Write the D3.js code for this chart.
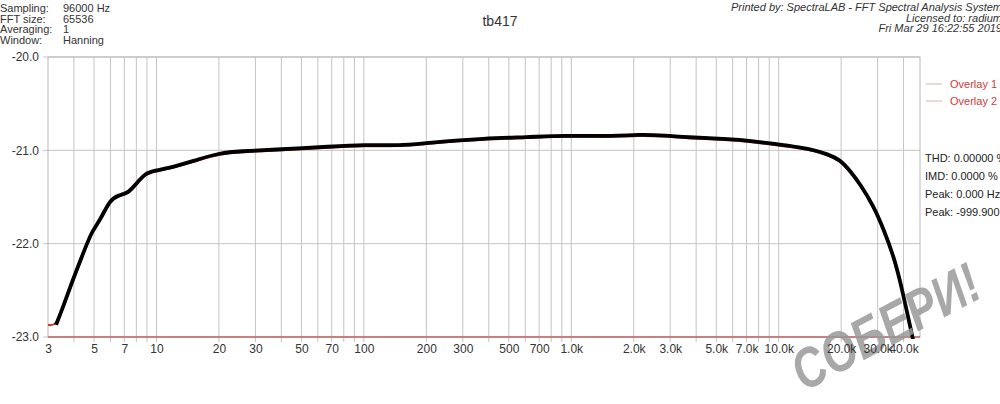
<!DOCTYPE html>
<html>
<head>
<meta charset="utf-8">
<script src="https://cdn.jsdelivr.net/npm/d3@7"></script>
<style>
  body { margin: 0; background: #fff; }
  text { font-family: "Liberation Sans", Arial, sans-serif; }
</style>
</head>
<body>
<svg id="chart"></svg>
<script>
// response data (Hz, dB)
const freqs = [3.28, 3.56, 3.9, 4.44, 4.87, 5.35, 5.97, 6.55, 7.32, 8.03, 8.82, 9.64, 12.1, 16.2, 20.2, 25,
  39.5, 68.7, 100, 150, 200, 390, 610, 912, 1650, 2050, 2900, 3500, 6000, 7300, 9500, 12800, 15000, 17100,
  19800, 22100, 24700, 28700, 32100, 35900, 38700, 41700, 44200, 45000];
const levels = [-22.87, -22.67, -22.42, -22.1, -21.87, -21.75, -21.53, -21.48, -21.46, -21.35, -21.25, -21.22, -21.18, -21.09, -21.03, -21.01,
  -20.99, -20.96, -20.94, -20.95, -20.92, -20.87, -20.86, -20.84, -20.85, -20.83, -20.84, -20.86, -20.88, -20.9, -20.93, -20.97, -21.0, -21.04,
  -21.1, -21.22, -21.36, -21.6, -21.85, -22.14, -22.42, -22.75, -23.0, -23.1];
const overlayStart = [3, -22.86];
const overlay2Level = -23.0;

const xTicks = [3, 5, 7, 10, 20, 30, 50, 70, 100, 200, 300, 500, 700, 1000, 2000, 3000, 5000, 7000, 10000, 20000, 30000, 40000];
const yTicks = [-20, -21, -22, -23];
const infoLabels = ["Sampling:", "FFT size:", "Averaging:", "Window:"];
const infoValues = ["96000 Hz", "65536", "1", "Hanning"];
const printedLines = ["Printed by: SpectraLAB - FFT Spectral Analysis System", "Licensed to: radium", "Fri Mar 29 16:22:55 2019"];
const legendNames = ["Overlay 1", "Overlay 2"];
const statLines = ["THD: 0.00000 %", "IMD: 0.0000 %", "Peak: 0.000 Hz", "Peak: -999.900 dB"];

const width = 1000, height = 404;
const margin = { top: 57, bottom: 67, left: 48, right: 80 };

const svg = d3.select("#chart").attr("width", width).attr("height", height);

const x = d3.scaleLog().domain([3, 48000]).range([margin.left, width - margin.right]);
const y = d3.scaleLinear().domain([-23, -20]).range([height - margin.bottom, margin.top]);

// minor grid: every integer in each decade
const gridF = [];
for (let dec = 1; dec <= 10000; dec *= 10) {
  for (let m = 1; m <= 9; m++) {
    const f = m * dec;
    if (f > 3 && f <= 40000) gridF.push(f);
  }
}

svg.append("g")
  .selectAll("line")
  .data(gridF)
  .enter()
  .append("line")
  .attr("x1", (d) => x(d)).attr("x2", (d) => x(d))
  .attr("y1", y(-20)).attr("y2", y(-23) + 5)
  .attr("stroke", "#c4c4c4")
  .attr("stroke-width", 1);

svg.append("g")
  .selectAll("line")
  .data(yTicks)
  .enter()
  .append("line")
  .attr("x1", x(3) - 5).attr("x2", x(48000))
  .attr("y1", (d) => y(d)).attr("y2", (d) => y(d))
  .attr("stroke", "#c4c4c4")
  .attr("stroke-width", 1);

// frame
svg.append("rect")
  .attr("x", x(3)).attr("y", y(-20))
  .attr("width", x(48000) - x(3)).attr("height", y(-23) - y(-20))
  .attr("fill", "none")
  .attr("stroke", "#b8b8b8");

const clip = svg.append("clipPath").attr("id", "plot-clip")
  .append("rect")
  .attr("x", x(3)).attr("y", y(-20))
  .attr("width", x(48000) - x(3)).attr("height", y(-23) - y(-20) + 2);

const line = d3.line()
  .x((d) => x(d[0]))
  .y((d) => y(d[1]))
  .curve(d3.curveBasis);

const mainData = freqs.map((f, i) => [f, levels[i]]);
const overlayData = [overlayStart].concat(mainData);

const plot = svg.append("g").attr("clip-path", "url(#plot-clip)");

// overlay 2 flat line
plot.append("line")
  .attr("x1", x(3)).attr("x2", x(48000))
  .attr("y1", y(overlay2Level)).attr("y2", y(overlay2Level))
  .attr("stroke", "#c0393b")
  .attr("stroke-width", 1.2);

// overlay 1
plot.append("path")
  .datum(overlayData)
  .attr("fill", "none")
  .attr("stroke", "#c0393b")
  .attr("stroke-width", 2)
  .attr("transform", "translate(0, 1)")
  .attr("d", line);

// main trace
plot.append("path")
  .datum(mainData)
  .attr("fill", "none")
  .attr("stroke", "#000")
  .attr("stroke-width", 3.8)
  .attr("stroke-linejoin", "round")
  .attr("d", line);

// watermark
svg.append("text")
  .attr("transform", "translate(804, 392) rotate(-28)")
  .attr("font-size", "56px")
  .attr("font-weight", "bold")
  .attr("font-style", "italic")
  .attr("fill", "#999")
  .attr("fill-opacity", 0.85)
  .attr("font-family", "DejaVu Sans, sans-serif")
  .attr("textLength", 205)
  .attr("lengthAdjust", "spacingAndGlyphs")
  .text("СОБЕРИ!");

// axes labels
svg.append("g")
  .attr("transform", `translate(0, ${y(-23)})`)
  .call(d3.axisBottom(x).tickValues(xTicks).tickSize(0)
    .tickFormat((d) => d >= 1000 ? (d / 1000).toFixed(1) + "k" : d))
  .call((g) => g.select(".domain").remove())
  .selectAll("text")
  .attr("dy", "1.05em")
  .attr("font-size", "12px")
  .attr("font-family", "Liberation Sans, Arial")
  .attr("fill", "#333");

svg.append("g")
  .attr("transform", `translate(${x(3) - 6}, 0)`)
  .call(d3.axisLeft(y).tickValues(yTicks).tickSize(0).tickFormat(d3.format(".1f")))
  .call((g) => g.select(".domain").remove())
  .selectAll("text")
  .attr("font-size", "12px")
  .attr("font-family", "Liberation Sans, Arial")
  .attr("fill", "#333")
  .text((d) => d3.format(".1f")(d).replace("−", "-"));

// title
svg.append("text")
  .attr("x", 500).attr("y", 26)
  .attr("text-anchor", "middle")
  .attr("font-size", "14px")
  .attr("fill", "#333")
  .text("tb417");

// top-left info
infoLabels.forEach(function (lab, i) {
  svg.append("text")
    .attr("x", 0).attr("y", 12 + i * 10.7)
    .attr("font-size", "11px").attr("fill", "#333")
    .text(lab);
  svg.append("text")
    .attr("x", 63).attr("y", 12 + i * 10.7)
    .attr("font-size", "11px").attr("fill", "#333")
    .text(infoValues[i]);
});

// top-right print info
printedLines.forEach(function (t, i) {
  svg.append("text")
    .attr("x", 1002).attr("y", 11 + i * 10.7)
    .attr("text-anchor", "end")
    .attr("font-size", "11px")
    .attr("font-style", "italic")
    .attr("fill", "#333")
    .text(t);
});

// legend
legendNames.forEach(function (name, i) {
  const ly = 84 + i * 17;
  svg.append("line")
    .attr("x1", 926).attr("x2", 942)
    .attr("y1", ly).attr("y2", ly)
    .attr("stroke", "#d8b0b0");
  svg.append("text")
    .attr("x", 950).attr("y", ly + 4)
    .attr("font-size", "11px")
    .attr("fill", "#d23a3a")
    .text(name);
});

// stats
statLines.forEach(function (t, i) {
  svg.append("text")
    .attr("x", 925).attr("y", 162 + i * 18)
    .attr("font-size", "11px")
    .attr("fill", "#222")
    .text(t);
});
</script>
</body>
</html>
